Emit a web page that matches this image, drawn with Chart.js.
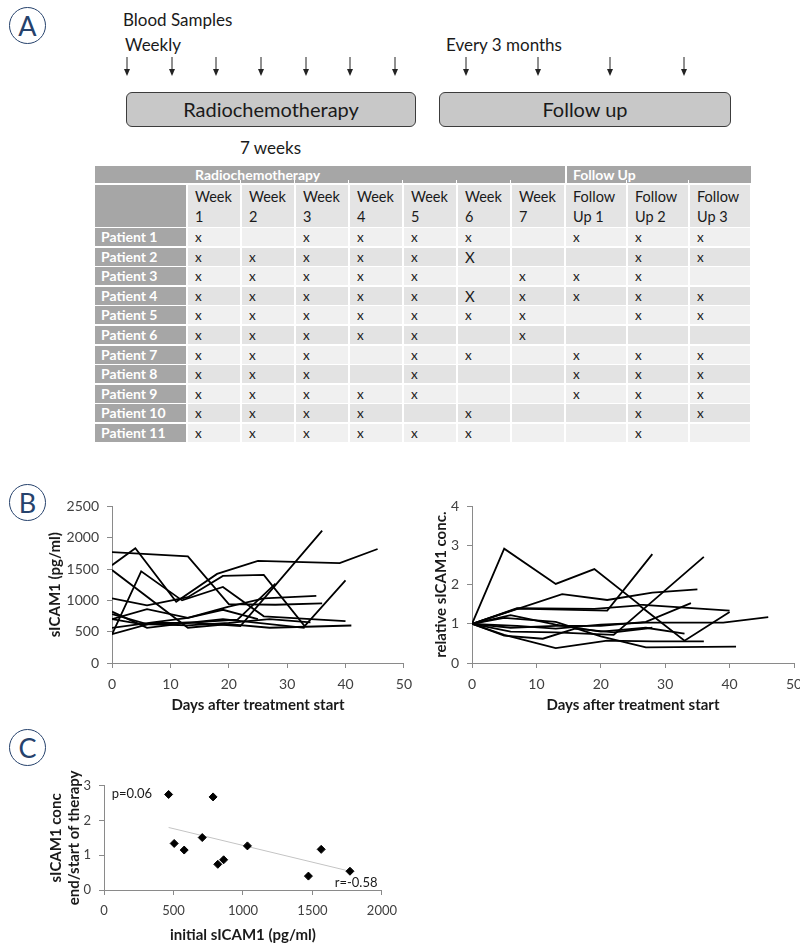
<!DOCTYPE html>
<html>
<head>
<meta charset="utf-8">
<script src="https://cdn.jsdelivr.net/npm/chart.js@4.4.0/dist/chart.umd.min.js"></script>
<style>
  body { margin: 0; width: 800px; height: 943px; position: relative; overflow: hidden; background: #fff;
         font-family: Lato, "Open Sans", sans-serif; color: #1a1a1a; }
  .abs { position: absolute; white-space: nowrap; }
  .badge { position: absolute; width: 35px; height: 35px; border: 1.5px solid #26426c; border-radius: 50%;
           color: #26426c; font-size: 27px; line-height: 35px; text-align: center; }
  .phase { position: absolute; top: 92px; height: 33px; background: #c8c8c8; border: 1px solid #3c3c3c;
           border-radius: 6px; font-size: 20px; line-height: 33px; text-align: center; }
  .cell { position: absolute; box-sizing: border-box; font-size: 13.5px; padding-left: 7px; overflow: hidden; }
  .lab { background: #a6a6a6; color: #fff; font-weight: bold; padding-left: 6px; font-size: 14px; }
  canvas { position: absolute; }
</style>
</head>
<body>

<div class="badge" style="left:9px;top:7px">A</div>
<div class="badge" style="left:9px;top:484px">B</div>
<div class="badge" style="left:9px;top:729px">C</div>

<div class="abs" style="left:123px;top:9px;font-size:17px">Blood Samples</div>
<div class="abs" style="left:125px;top:34px;font-size:17px">Weekly</div>
<div class="abs" style="left:446px;top:34px;font-size:17px">Every 3 months</div>
<svg id="arrows" class="abs" style="left:0;top:0" width="800" height="90"></svg>
<div class="phase" style="left:126px;width:288px">Radiochemotherapy</div>
<div class="phase" style="left:439px;width:290px">Follow up</div>
<div class="abs" style="left:240px;top:137px;font-size:17px">7 weeks</div>

<div id="tbl"></div>

<canvas id="absChart" width="378" height="230" style="left:42px;top:490px"></canvas>
<canvas id="relChart" width="392" height="230" style="left:428px;top:490px"></canvas>
<canvas id="corrChart" width="362" height="180" style="left:43px;top:770px"></canvas>

<script>
// ---- panel A: sampling scheme ----
const arrowX = [127, 172, 216, 261, 306, 350, 395, 466, 538, 610, 684];

// ---- panel A: table of collected samples ----
const sampleCols = ["Week 1", "Week 2", "Week 3", "Week 4", "Week 5", "Week 6", "Week 7", "Follow Up 1", "Follow Up 2", "Follow Up 3"];
const patients = ["Patient 1", "Patient 2", "Patient 3", "Patient 4", "Patient 5", "Patient 6",
                  "Patient 7", "Patient 8", "Patient 9", "Patient 10", "Patient 11"];
const samples = [
  ["x", "",  "x", "x", "x", "x", "",  "x", "x", "x"],
  ["x", "x", "x", "x", "x", "X", "",  "",  "x", "x"],
  ["x", "x", "x", "x", "x", "",  "x", "x", "x", ""],
  ["x", "x", "x", "x", "x", "X", "x", "x", "x", "x"],
  ["x", "x", "x", "x", "x", "x", "x", "",  "x", "x"],
  ["x", "x", "x", "x", "x", "",  "x", "",  "",  ""],
  ["x", "x", "x", "",  "x", "x", "",  "x", "x", "x"],
  ["x", "x", "x", "",  "x", "",  "",  "x", "x", "x"],
  ["x", "x", "x", "x", "x", "",  "",  "x", "x", "x"],
  ["x", "x", "x", "x", "",  "x", "",  "",  "x", "x"],
  ["x", "x", "x", "x", "x", "x", "",  "",  "x", ""]
];

// ---- panel B: absolute sICAM1 (pg/ml) per patient ----
const absDays = [
  [0, 13, 20, 28, 36],
  [0, 4, 11, 18, 25, 39, 45.5],
  [0, 5, 12, 19, 26, 40],
  [0, 6, 13, 19, 26, 33, 40],
  [0, 13, 20, 27, 41],
  [0, 6, 13, 22, 36],
  [0, 7, 13, 21.5, 28],
  [0, 6, 13, 20, 26, 35],
  [0, 6, 13, 19, 27, 33],
  [0, 5, 13, 20, 27, 34],
  [0, 7, 13, 19, 25]
];
const absValues = [
  [1771, 1703, 940, 930, 953],
  [1562, 1833, 979, 1422, 1630, 1594, 1820],
  [458, 1463, 1000, 1213, 745, 667],
  [1031, 920, 1050, 1390, 1406, 589, 1318],
  [1484, 563, 620, 563, 599],
  [780, 620, 650, 589, 2114],
  [460, 640, 640, 693, 1266],
  [700, 860, 720, 900, 1031, 1073],
  [820, 560, 640, 700, 620, 560],
  [700, 620, 600, 640, 700, 650],
  [560, 650, 720, 850, 700]
];

// ---- panel B: concentration relative to day 0 ----
const relDays = [
  [0, 5, 13, 19, 26, 40],
  [0, 7, 21, 28],
  [0, 7, 19, 26, 33, 40],
  [0, 14, 21, 28, 35],
  [0, 6, 13, 22, 36],
  [0, 6, 13, 20, 27, 34],
  [0, 7, 13, 20, 27, 39, 46],
  [0, 6, 13, 20, 27, 33],
  [0, 5, 13, 21, 28, 36],
  [0, 5, 13, 20, 27, 41],
  [0, 5, 11, 16, 22, 28]
];
const relValues = [
  [1, 2.92, 2.02, 2.40, 1.49, 1.34],
  [1, 1.39, 1.34, 2.78],
  [1, 1.40, 1.38, 1.47, 0.57, 1.30],
  [1, 1.76, 1.61, 1.80, 1.88],
  [1, 0.80, 0.78, 0.72, 2.71],
  [1, 0.90, 0.95, 0.95, 1.05, 1.53],
  [1, 0.95, 0.88, 0.98, 1.03, 1.03, 1.17],
  [1, 1.22, 0.98, 0.80, 0.90, 0.75],
  [1, 0.72, 0.38, 0.57, 0.55, 0.55],
  [1, 1.15, 1.05, 0.68, 0.40, 0.42],
  [1, 0.70, 0.62, 0.88, 0.78, 0.90]
];

// ---- panel C: initial sICAM1 vs end/start ratio ----
const initialConc = [465, 785, 505, 577, 707, 819, 861, 1032, 1563, 1471, 1770];
const endStartRatio = [2.75, 2.68, 1.34, 1.15, 1.51, 0.74, 0.87, 1.27, 1.17, 0.40, 0.54];
const trendX = [465, 1770];
const trendY = [1.80, 0.54];
const statNotes = [
  { text: "p=0.06", x: 55, y: 2.76, align: "left" },
  { text: "r=-0.58", x: 1968, y: 0.21, align: "right" }
];

// arrows
const svg = document.getElementById("arrows");
svg.innerHTML = arrowX.map(x =>
  `<line x1="${x}" y1="57" x2="${x}" y2="71" stroke="#222" stroke-width="1"/>` +
  `<polygon points="${x - 3},69 ${x + 3},69 ${x},76" fill="#222"/>`).join("");

// table
const colEdges = [95, 187, 241, 295, 349, 403, 457, 511, 565, 627, 689, 751];
const tbl = document.getElementById("tbl");
let html = "";
function cell(x0, x1, y, h, cls, style, text) {
  return `<div class="cell ${cls}" style="left:${x0}px;top:${y}px;width:${x1 - x0}px;height:${h}px;line-height:${h}px;${style}">${text}</div>`;
}
html += cell(95, 565, 166, 17, "lab", "", `<span style="position:absolute;left:100px">Radiochemotherapy</span>`);
html += cell(567, 751, 166, 17, "lab", "", "Follow Up");
for (let c = 2; c < colEdges.length - 1; c++) {
  if (c !== 8) html += `<div class="abs" style="left:${colEdges[c] - 1}px;top:180px;width:1px;height:3px;background:#fff"></div>`;
}
html += cell(95, 186, 185, 42, "lab", "", "");
sampleCols.forEach((name, c) => {
  const parts = name.split(" ");
  const bottom = name.startsWith("Week") ? parts[1] : "Up " + parts[2];
  const first = name.startsWith("Week") ? "Week" : "Follow";
  html += cell(colEdges[c + 1] + 1, colEdges[c + 2] - 1, 185, 42, "", "background:#e4e4e4;line-height:20px;padding-top:2px;font-size:14.5px", `${first}<br>${bottom}`);
});
patients.forEach((p, r) => {
  const y = Math.round(228 + r * 19.6);
  const bg = r % 2 === 0 ? "#f0f0f0" : "#e3e3e3";
  html += cell(95, 186, y, 18, "lab", "", p);
  samples[r].forEach((v, c) => {
    const big = v === "X" ? "font-size:15px;" : "";
    html += cell(colEdges[c + 1] + 1, colEdges[c + 2] - 1, y, 18, "", `background:${bg};${big}`, v);
  });
});
tbl.innerHTML = html;

// ---- charts ----
Chart.defaults.font.family = "Lato";
Chart.defaults.color = "#404040";

function axis(min, max, stepSize, title, fit, fontSize) {
  return {
    type: "linear",
    min, max,
    ticks: { stepSize, color: "#404040", font: { size: fontSize }, padding: 8, callback: v => String(v) },
    grid: { drawOnChartArea: false, drawTicks: true, tickLength: 5, color: "#8a8a8a" },
    border: { color: "#8a8a8a", width: 1 },
    title: { display: true, text: title, color: "#1a1a1a", font: { size: 15, weight: "bold" }, padding: { top: 4, bottom: 6 } },
    afterFit: fit
  };
}

function spaghetti(canvas, days, values, yMax, yStep, yTitle, yWidth, padRight) {
  return new Chart(canvas, {
    type: "line",
    data: {
      datasets: days.map((d, i) => ({
        data: d.map((x, j) => ({ x, y: values[i][j] })),
        borderColor: "#000",
        borderWidth: 1.8,
        pointRadius: 0,
        tension: 0,
        fill: false
      }))
    },
    options: {
      responsive: false,
      animation: false,
      layout: { padding: { top: 13, right: padRight, bottom: 0, left: 0 } },
      plugins: { legend: { display: false }, tooltip: { enabled: false } },
      scales: {
        x: axis(0, 50, 10, "Days after treatment start", s => { s.height = 57; }, 14),
        y: axis(0, yMax, yStep, yTitle, s => { s.width = yWidth; }, 14)
      }
    }
  });
}

spaghetti(document.getElementById("absChart"), absDays, absValues, 2500, 500, "sICAM1 (pg/ml)", 70, 9);
spaghetti(document.getElementById("relChart"), relDays, relValues, 4, 1, "relative sICAM1 conc.", 44, 26);

const notesPlugin = {
  id: "notes",
  afterDatasetsDraw(chart) {
    const { ctx, scales } = chart;
    ctx.save();
    ctx.font = "13px Lato";
    ctx.fillStyle = "#1a1a1a";
    ctx.textBaseline = "middle";
    statNotes.forEach(n => {
      ctx.textAlign = n.align;
      ctx.fillText(n.text, scales.x.getPixelForValue(n.x), scales.y.getPixelForValue(n.y));
    });
    ctx.restore();
  }
};

new Chart(document.getElementById("corrChart"), {
  type: "scatter",
  data: {
    datasets: [
      {
        data: initialConc.map((x, i) => ({ x, y: endStartRatio[i] })),
        pointStyle: "rectRot",
        pointRadius: 4,
        backgroundColor: "#000",
        borderColor: "#000"
      },
      {
        type: "line",
        data: trendX.map((x, i) => ({ x, y: trendY[i] })),
        borderColor: "#c4c4c4",
        borderWidth: 1,
        pointRadius: 0
      }
    ]
  },
  options: {
    responsive: false,
    animation: false,
    layout: { padding: { top: 11, right: 20, bottom: 0, left: 0 } },
    plugins: { legend: { display: false }, tooltip: { enabled: false } },
    scales: {
      x: axis(0, 2000, 500, "initial sICAM1 (pg/ml)", s => { s.height = 60; }, 13),
      y: axis(0, 3, 1, ["sICAM1 conc", "end/start of therapy"], s => { s.width = 61; }, 13)
    }
  },
  plugins: [notesPlugin]
});
</script>
</body>
</html>
